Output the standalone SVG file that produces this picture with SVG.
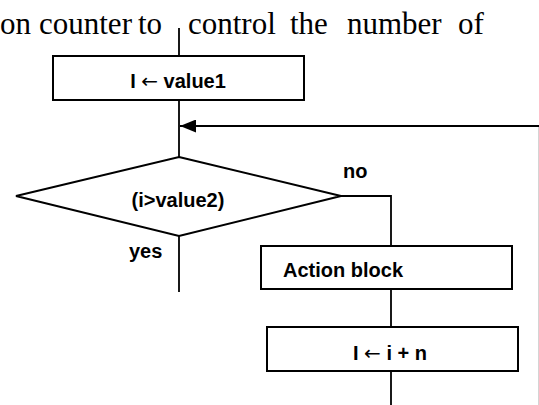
<svg xmlns="http://www.w3.org/2000/svg" width="539" height="405" viewBox="0 0 539 405">
  <defs>
    <style>
      .shape { fill: #ffffff; stroke: #000000; stroke-width: 2; }
      .line { fill: none; stroke: #000000; stroke-width: 1.8; }
      .lbl { font-family: "Liberation Sans", Arial, sans-serif; font-weight: bold; font-size: 20px; fill: #000000; }
      .arw { font-family: "DejaVu Sans", sans-serif; font-weight: normal; }
      .body { font-family: "Liberation Serif", "Times New Roman", serif; font-size: 31px; fill: #000000; }
    </style>
    <marker id="arr" markerWidth="16" markerHeight="13" refX="16" refY="6.5" orient="auto" markerUnits="userSpaceOnUse">
      <path d="M0,0 L16,6.5 L0,13 Z" fill="#000000"/>
    </marker>
  </defs>
  <rect width="539" height="405" fill="#ffffff"/>

  <text class="body" y="34">
    <tspan x="0">on</tspan><tspan x="39">counter</tspan><tspan x="138">to</tspan><tspan x="188">control</tspan><tspan x="290">the</tspan><tspan x="347">number</tspan><tspan x="458">of</tspan>
  </text>

  <g id="connectors">
    <line class="line" x1="179" y1="28" x2="179" y2="56"/>
    <line class="line" x1="179" y1="100" x2="179" y2="157"/>
    <line class="line" x1="539" y1="126" x2="180" y2="126" stroke-width="2.6" marker-end="url(#arr)"/>
    <line x1="538.5" y1="127" x2="538.5" y2="405" stroke="#d4d4d4" stroke-width="1"/>
    <polyline class="line" points="341,196 391,196 391,246"/>
    <line class="line" x1="179" y1="236" x2="179" y2="292"/>
    <line class="line" x1="391" y1="289" x2="391" y2="327"/>
    <line class="line" x1="391" y1="371" x2="391" y2="405"/>
    <text class="lbl" x="343" y="178">no</text>
    <text class="lbl" x="129" y="258">yes</text>
  </g>

  <g id="init">
    <rect class="shape" x="53" y="56" width="251" height="44"/>
    <text class="lbl" x="178" y="88" text-anchor="middle">I <tspan class="arw">←</tspan> value1</text>
  </g>

  <g id="decision">
    <polygon class="shape" points="179,157 341,196 179,236 16,196"/>
    <text class="lbl" x="178" y="207" text-anchor="middle">(i&gt;value2)</text>
  </g>

  <g id="action">
    <rect class="shape" x="261" y="246" width="251" height="43"/>
    <text class="lbl" x="283" y="277">Action block</text>
  </g>

  <g id="increment">
    <rect class="shape" x="267" y="327" width="251" height="44"/>
    <text class="lbl" x="390" y="360" text-anchor="middle">I <tspan class="arw">←</tspan> i + n</text>
  </g>
</svg>
